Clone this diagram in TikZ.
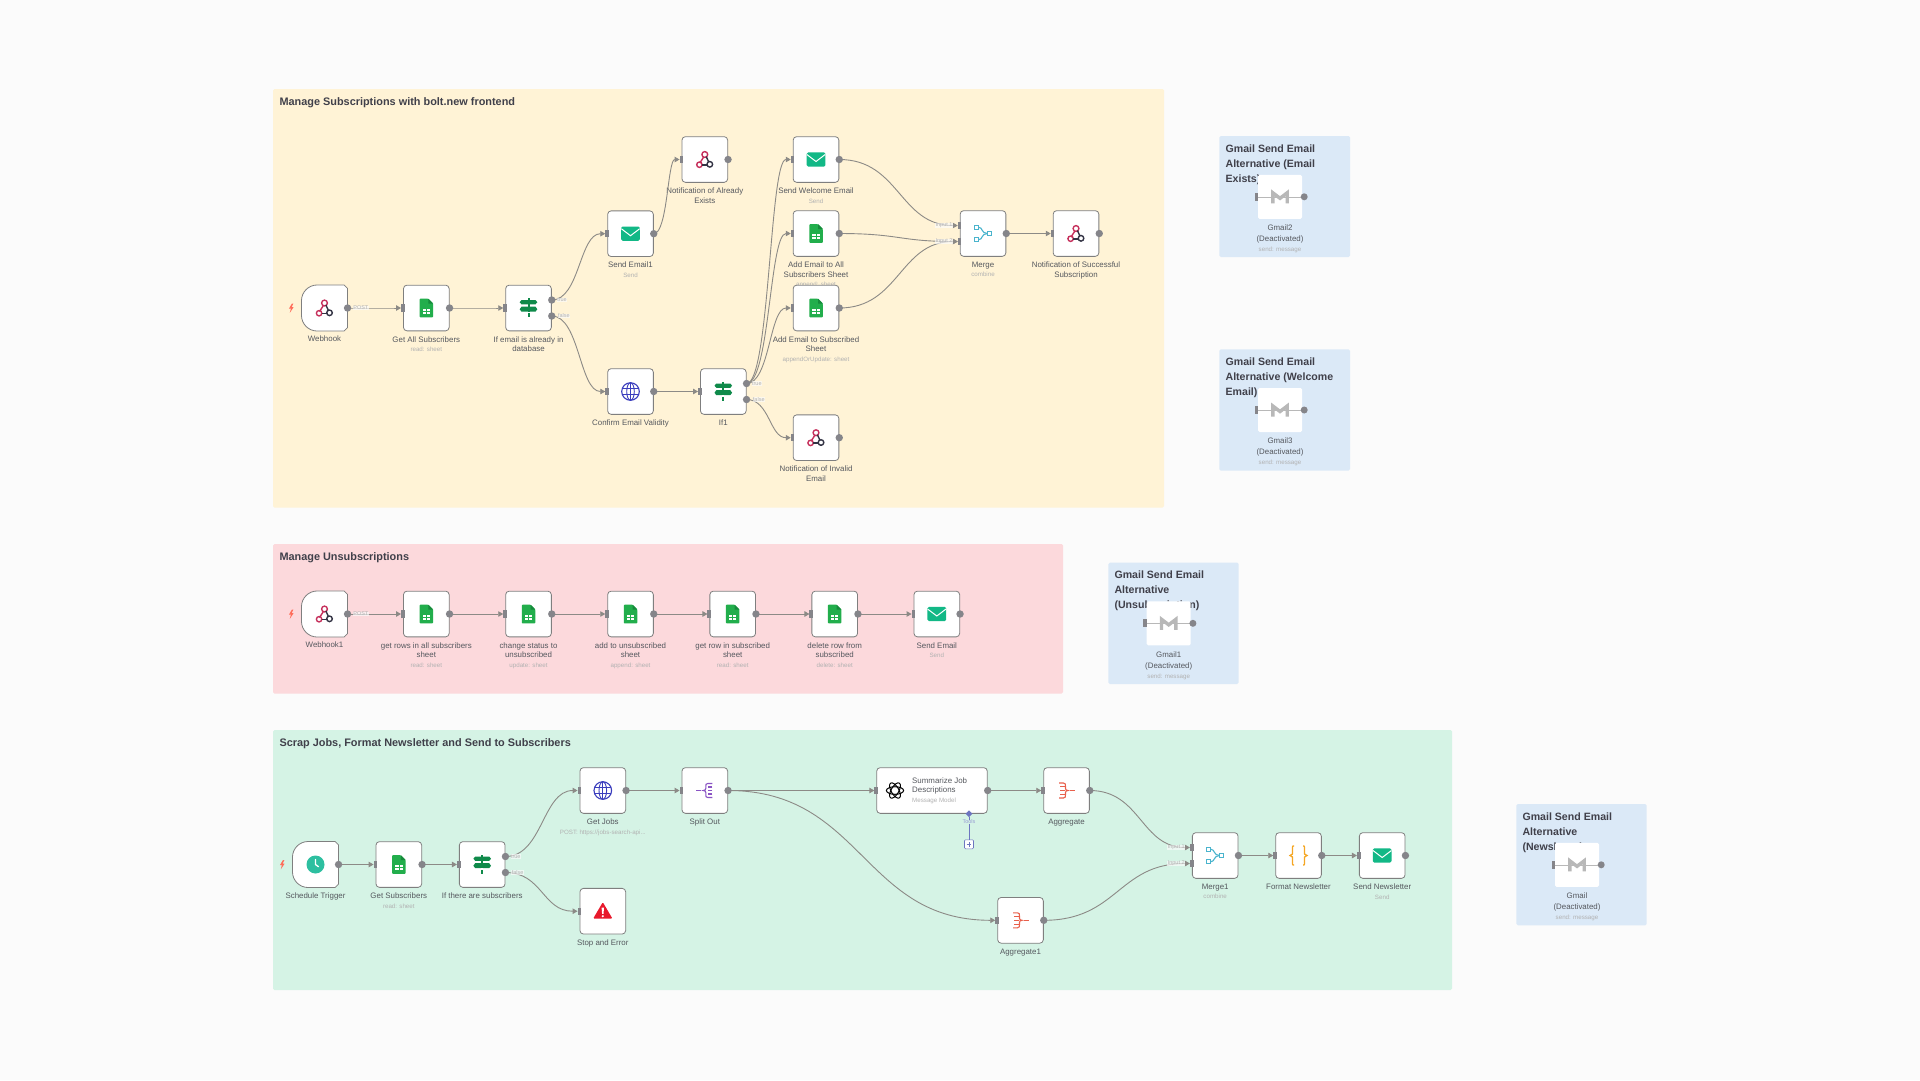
\documentclass[tikz,border=0pt]{standalone}
\usepackage{fontspec}
\setmainfont{Liberation Sans}
\usetikzlibrary{calc,arrows.meta,shapes.geometric}
\definecolor{bgc}{HTML}{FBFBFB}
\definecolor{yellowg}{HTML}{FFF3D6}
\definecolor{pinkg}{HTML}{FCD9DC}
\definecolor{greeng}{HTML}{D5F3E5}
\definecolor{blueg}{HTML}{DBE9F7}
\definecolor{edgec}{HTML}{8C8A86}
\definecolor{portc}{HTML}{85858A}
\definecolor{boxc}{HTML}{7F7F7F}
\definecolor{titlec}{HTML}{40404A}
\definecolor{lblc}{HTML}{55585E}
\definecolor{subc}{HTML}{B2B2B2}
\definecolor{sheetg}{HTML}{22AE4C}
\definecolor{sheetd}{HTML}{178A3C}
\definecolor{ifg}{HTML}{0F8A4A}
\definecolor{mailg}{HTML}{12B886}
\definecolor{globeb}{HTML}{3A3DBD}
\definecolor{mergec}{HTML}{4AB4CD}
\definecolor{crim}{HTML}{C6305C}
\definecolor{darkc}{HTML}{333344}
\definecolor{clockc}{HTML}{2DBFA0}
\definecolor{splitc}{HTML}{8A54C4}
\definecolor{aggc}{HTML}{E8604C}
\definecolor{stopc}{HTML}{E8192C}
\definecolor{codec}{HTML}{F5A623}
\definecolor{boltc}{HTML}{FF6D5A}
\definecolor{gmc}{HTML}{B8B8B8}
\definecolor{toolc}{HTML}{6D75C0}
\newcommand{\lblfont}{\fontsize{7.9}{9.5}\selectfont}
\newcommand{\subl}[1]{{\fontsize{6.2}{9.5}\selectfont\color{subc}#1}}
\tikzset{
  nbox/.style={draw=boxc,line width=.8pt,fill=white,rounded corners=3.5pt,minimum width=45.7pt,minimum height=45.7pt,inner sep=0pt},
  tbox/.style={draw=none,fill=none,minimum width=45.7pt,minimum height=45.7pt,inner sep=0pt},
  gbox/.style={fill=white,rounded corners=1.5pt,minimum width=44pt,minimum height=44pt,inner sep=0pt},
  lbl/.style={anchor=north,inner sep=0pt,yshift=-5pt,align=center,font=\lblfont,text=lblc},
  grouptitle/.style={anchor=base west,inner sep=0pt,font=\fontsize{10.9}{12}\selectfont\bfseries,text=titlec},
  stitle/.style={anchor=north west,inner sep=0pt,align=left,font=\fontsize{10.6}{15}\selectfont\bfseries,text=titlec},
  conn/.style={draw=edgec,line width=.9pt,-{Triangle[width=5.5pt,length=5pt]},shorten >=2pt},
  port/.style={fill=portc},
  hl/.style={font=\fontsize{5.5}{6}\selectfont,text=subc,fill=bgc,fill opacity=.65,text opacity=1,inner sep=.4pt},
  ic webhook/.pic={
    \draw[crim,line width=1.4pt] (0,-5) circle[radius=2.9];
    \draw[crim,line width=1.4pt] (-1.2,-2.4) -- (-5,3.6);
    \draw[crim,line width=1.4pt] (-5.4,5.2) circle[radius=2.7];
    \draw[darkc,line width=1.4pt] (-2.8,5.4) -- (3,5.4);
    \draw[darkc,line width=1.4pt] (5,4.8) circle[radius=2.8];
    \draw[darkc,line width=1.4pt] (1.4,-3) -- (3.8,2.2);
  },
  ic sheet/.pic={
    \fill[sheetg,rounded corners=.8pt] (-6.75,-9.3) -- (2,-9.3) -- (6.75,-4.5) -- (6.75,9.3) -- (-6.75,9.3) -- cycle;
    \fill[sheetd] (2,-9.3) -- (6.75,-4.5) -- (2,-4.5) -- cycle;
    \fill[white] (-3.7,.5) rectangle (3.7,5.8);
    \draw[sheetg,line width=.6pt] (0,.5) -- (0,5.8) (-3.7,3.1) -- (3.7,3.1);
  },
  ic if/.pic={
    \fill[ifg] (-1,-9.7) rectangle (1,9.3);
    \fill[ifg] (-8.8,-5.8) -- (-7,-8) -- (7,-8) -- (8.8,-5.8) -- (7,-3.7) -- (-7,-3.7) -- cycle;
    \fill[ifg] (-8.8,1.2) -- (-7,-1.3) -- (7,-1.3) -- (8.8,1.2) -- (7,3.7) -- (-7,3.7) -- cycle;
    \fill[white] (-1,3.7) rectangle (1,5.2);
  },
  ic mail/.pic={
    \fill[mailg,rounded corners=1.5pt] (-9.35,-7.15) rectangle (9.35,7.15);
    \draw[white,line width=1pt] (-9.2,-5) -- (0,2) -- (9.2,-5);
  },
  ic globe/.pic={
    \draw[globeb,line width=1.1pt] (0,0) circle[radius=8.8];
    \draw[globeb,line width=.9pt] (0,0) ellipse[x radius=3.8,y radius=8.8];
    \draw[globeb,line width=.9pt] (-8.2,-3.2) -- (8.2,-3.2) (-8.2,3.2) -- (8.2,3.2) (0,-8.8) -- (0,8.8);
  },
  ic merge/.pic={
    \draw[mergec,line width=1.1pt] (-8.5,-8.3) rectangle (-4.5,-4.3);
    \draw[mergec,line width=1.1pt] (-8.5,4.3) rectangle (-4.5,8.3);
    \draw[mergec,line width=1.1pt] (4.5,-2) rectangle (8.5,2);
    \draw[mergec,line width=1.1pt] (-4.5,-6.3) .. controls (0,-6.3) and (-2,0) .. (4.5,0);
    \draw[mergec,line width=1.1pt] (-4.5,6.3) .. controls (0,6.3) and (-2,0) .. (4.5,0);
  },
  ic gmail/.pic={
    \draw[gmc,line width=3.4pt,line join=miter] (-7.2,6.5) -- (-7.2,-4) -- (0,1.5) -- (7.2,-4) -- (7.2,6.5);
  },
  ic clock/.pic={
    \fill[clockc] (0,0) circle[radius=9];
    \draw[white,line width=1.3pt,line cap=round] (0,-5) -- (0,0) -- (3,2.2);
  },
  ic aggregate/.pic={
    \draw[aggc,line width=1.1pt] (-7.5,-7.5) -- (-3,-7.5) .. controls (-1,-7.5) and (-1,-6) .. (-1,-4) -- (-1,-2) .. controls (-1,-.7) and (0,0) .. (1.5,0) .. controls (0,0) and (-1,.7) .. (-1,2) -- (-1,4) .. controls (-1,6) and (-1,7.5) .. (-3,7.5) -- (-7.5,7.5);
    \draw[aggc,line width=1.1pt] (-6.5,-3.8) -- (-2,-3.8) (-6.5,0) -- (-2,0) (-6.5,3.8) -- (-2,3.8) (3.5,0) -- (8.5,0);
  },
  ic split/.pic={
    \draw[splitc,line width=1.1pt] (7.5,-7) -- (3,-7) .. controls (1,-7) and (1,-6) .. (1,-4) -- (1,-2) .. controls (1,-.7) and (0,0) .. (-1.5,0) .. controls (0,0) and (1,.7) .. (1,2) -- (1,4) .. controls (1,6) and (1,7) .. (3,7) -- (7.5,7);
    \draw[splitc,line width=1.1pt] (7.5,-3.5) -- (3,-3.5) (7.5,0) -- (3,0) (7.5,3.5) -- (3,3.5) (-3.5,0) -- (-9,0);
  },
  ic stop/.pic={
    \fill[stopc,rounded corners=1.2pt] (0,-9) -- (9.7,7.5) -- (-9.7,7.5) -- cycle;
    \fill[white] (-1.2,-3.5) -- (1.2,-3.5) -- (.7,2.7) -- (-.7,2.7) -- cycle;
    \fill[white] (0,5) circle[radius=1.2];
  },
  ic code/.pic={
    \draw[codec,line width=1.3pt] (-4.5,-9.5) -- (-5.5,-9.5) -- (-6,-8.5) -- (-6,-1.5) -- (-8.5,0) -- (-6,1.5) -- (-6,8.5) -- (-5.5,9.5) -- (-4.5,9.5);
    \draw[codec,line width=1.3pt] (4.5,-9.5) -- (5.5,-9.5) -- (6,-8.5) -- (6,-1.5) -- (8.5,0) -- (6,1.5) -- (6,8.5) -- (5.5,9.5) -- (4.5,9.5);
  },
  ic openai/.pic={
    \draw[black,line width=1pt] (0,0) ellipse[x radius=8.6,y radius=3.8];
    \draw[black,line width=1pt,rotate=60] (0,0) ellipse[x radius=8.6,y radius=3.8];
    \draw[black,line width=1pt,rotate=120] (0,0) ellipse[x radius=8.6,y radius=3.8];
  },
}
% node with icon and label
\newcommand{\nd}[5]{\node[nbox] (#1) at (#2,#3) {}; \pic at (#1) {#4}; \node[lbl] (#1-l) at (#1.south) {#5};}
% trigger node with a large left rounding and bolt
\newcommand{\trig}[5]{\node[tbox] (#1) at (#2,#3) {};
  \path[fill=white,draw=boxc,line width=.8pt] (#1.north) -- ($(#1.north east)+(-3.5,0)$) -- ($(#1.north east)+(0,3.5)$) -- ($(#1.south east)+(0,-3.5)$) -- ($(#1.south east)+(-3.5,0)$) -- ($(#1.south west)+(16,0)$) .. controls ($(#1.south west)+(7,0)$) and ($(#1.south west)+(0,-7)$) .. ($(#1.south west)+(0,-16)$) -- ($(#1.north west)+(0,16)$) .. controls ($(#1.north west)+(0,7)$) and ($(#1.north west)+(7,0)$) .. ($(#1.north west)+(16,0)$) -- cycle;
  \pic at (#1) {#4};
  \fill[boltc] ($(#1.west)+(-9.5,-4.5)$) -- ($(#1.west)+(-12.5,.6)$) -- ($(#1.west)+(-10.6,.6)$) -- ($(#1.west)+(-11.6,4.8)$) -- ($(#1.west)+(-7.8,-1)$) -- ($(#1.west)+(-9.7,-1)$) -- ($(#1.west)+(-8,-4.5)$) -- cycle;
  \node[lbl] (#1-l) at (#1.south) {#5};}
% curved connector with horizontal tangents
\newcommand{\lnk}[2]{\coordinate (midpt) at ($(#1)!0.5!(#2)$); \draw[conn] (#1) .. controls (midpt |- #1) and (midpt |- #2) .. (#2);}
\newcommand{\outp}[1]{\fill[port] (#1) circle[radius=3.7];}
\newcommand{\inp}[1]{\fill[port] ($(#1)+(-2,-3.7)$) rectangle ($(#1)+(1.6,3.7)$);}
% sticky with a deactivated Gmail node
\newcommand{\sticky}[9]{%
  \path[fill=blueg,rounded corners=1.5pt] (#2,#3) rectangle (#4,#5);
  \node[stitle] (#1-t) at ($(#2,#3)+(6,8.3)$) {#6};
  \node[gbox] (#1) at (#7,#8) {};
  \coordinate (#1-a) at ($(#1.west)+(-1.5,0)$);
  \coordinate (#1-b) at ($(#1.east)+(2,0)$);
  \draw[gmc,line width=.6pt] (#1-a) -- (#1-b);
  \pic at (#1) {ic gmail};
  \fill[port] ($(#1-a)+(-1.8,-4)$) rectangle ($(#1-a)+(1.6,4)$);
  \fill[port] (#1-b) circle[radius=3.5];
  \node[lbl,yshift=-.8pt,font=\fontsize{7.9}{11}\selectfont] (#1-l) at (#1.south) {#9\\[-1.2pt]{\fontsize{6.2}{9.5}\selectfont\color{subc}send: message}};
}
\begin{document}
\begin{tikzpicture}[x=1pt,y=-1pt]
\useasboundingbox (0,0) rectangle (1920,1080);
\fill[bgc] (0,0) rectangle (1920,1080);
% groups
\fill[yellowg,rounded corners=1.5pt] (273,89) rectangle (1164,507.5);
\fill[pinkg,rounded corners=1.5pt] (273,544) rectangle (1063,693.5);
\fill[greeng,rounded corners=1.5pt] (273,730) rectangle (1452,990);
\node[grouptitle] (g1t) at (279.3,105) {Manage Subscriptions with bolt.new frontend};
\node[grouptitle] (g2t) at (279.3,560) {Manage Unsubscriptions};
\node[grouptitle] (g3t) at (279.3,746) {Scrap Jobs, Format Newsletter and Send to Subscribers};
% stickies
\sticky{gm2}{1219.4}{136}{1350}{257}{Gmail Send Email\\Alternative (Email\\Exists)}{1280}{196.8}{Gmail2\\(Deactivated)}
\sticky{gm3}{1219.4}{349.3}{1350}{470.7}{Gmail Send Email\\Alternative (Welcome\\Email)}{1280}{410}{Gmail3\\(Deactivated)}
\sticky{gm1}{1108.3}{562.7}{1238.7}{684}{Gmail Send Email\\Alternative\\(Unsubscription)}{1168.7}{623.3}{Gmail1\\(Deactivated)}
\sticky{gm0}{1516.3}{804}{1646.7}{925.3}{Gmail Send Email\\Alternative\\(Newsletter)}{1577}{864.8}{Gmail\\(Deactivated)}
% group 1 nodes
\trig{wh}{324.5}{308}{ic webhook}{Webhook}
\nd{gas}{426.3}{308}{ic sheet}{Get All Subscribers\\\subl{read: sheet}}
\nd{ifa}{528.5}{308}{ic if}{If email is already in\\database}
\nd{se1}{630.5}{233.7}{ic mail}{Send Email1\\\subl{Send}}
\nd{nae}{704.8}{159.5}{ic webhook}{Notification of Already\\Exists}
\nd{cev}{630.5}{391.5}{ic globe}{Confirm Email Validity}
\nd{if1}{723.3}{391.5}{ic if}{If1}
\nd{swe}{816}{159.5}{ic mail}{Send Welcome Email\\\subl{Send}}
\nd{aas}{816}{233.5}{ic sheet}{Add Email to All\\Subscribers Sheet\\\subl{append: sheet}}
\nd{ass}{816}{308}{ic sheet}{Add Email to Subscribed\\Sheet\\\subl{appendOrUpdate: sheet}}
\nd{nie}{816}{437.7}{ic webhook}{Notification of Invalid\\Email}
\nd{mrg}{983}{233.5}{ic merge}{Merge\\\subl{combine}}
\nd{nss}{1076}{233.5}{ic webhook}{Notification of Successful\\Subscription}
% group 2 nodes
\trig{wh1}{324.5}{614}{ic webhook}{Webhook1}
\nd{gra}{426.3}{614}{ic sheet}{get rows in all subscribers\\sheet\\\subl{read: sheet}}
\nd{chs}{528.5}{614}{ic sheet}{change status to\\unsubscribed\\\subl{update: sheet}}
\nd{atu}{630.5}{614}{ic sheet}{add to unsubscribed\\sheet\\\subl{append: sheet}}
\nd{grs}{732.7}{614}{ic sheet}{get row in subscribed\\sheet\\\subl{read: sheet}}
\nd{drs}{834.7}{614}{ic sheet}{delete row from\\subscribed\\\subl{delete: sheet}}
\nd{sem}{936.8}{614}{ic mail}{Send Email\\\subl{Send}}
% group 3 nodes
\trig{sch}{315.5}{864.5}{ic clock}{Schedule Trigger}
\nd{gsb}{398.8}{864.5}{ic sheet}{Get Subscribers\\\subl{read: sheet}}
\nd{ift}{482.2}{864.5}{ic if}{If there are subscribers}
\nd{gjb}{602.8}{790.5}{ic globe}{Get Jobs\\\subl{POST: https://jobs-search-api...}}
\nd{spl}{704.8}{790.5}{ic split}{Split Out}
\nd{stp}{602.8}{911.2}{ic stop}{Stop and Error}
\node[nbox,minimum width=110.6pt] (sum) at (932,790.5) {};
\pic at (895,790.5) {ic openai};
\node[anchor=north west,inner sep=0pt,align=left,font=\lblfont,text=lblc] (sum-l) at (912,777.5) {Summarize Job\\Descriptions\\\subl{Message Model}};
\nd{agg}{1066.5}{790.5}{ic aggregate}{Aggregate}
\nd{ag1}{1020.5}{920.3}{ic aggregate}{Aggregate1}
\nd{mg1}{1215.2}{855.5}{ic merge}{Merge1\\\subl{combine}}
\nd{fmt}{1298.5}{855.5}{ic code}{Format Newsletter}
\nd{snl}{1382.2}{855.5}{ic mail}{Send Newsletter\\\subl{Send}}
% tools sub-port
\node[diamond,fill=toolc,minimum size=7pt,inner sep=0pt] (tool) at (969,813.7) {};
\node[draw=toolc,fill=white,rounded corners=1pt,line width=.6pt,minimum size=9pt,inner sep=0pt] (plus) at (969,844.3) {};
\draw[toolc,line width=.7pt] (tool) -- (plus);
\draw[toolc,line width=.7pt] ($(plus)+(-2.4,0)$) -- ($(plus)+(2.4,0)$) ($(plus)+(0,-2.4)$) -- ($(plus)+(0,2.4)$);
\node[font=\fontsize{5.5}{6}\selectfont,text=toolc!70,fill=greeng,inner sep=.3pt] (toolt) at (969,822) {Tools};
% ports with offsets
\coordinate (ifa-t) at ($(ifa.east)+(0,-8)$);
\coordinate (ifa-f) at ($(ifa.east)+(0,8)$);
\coordinate (if1-t) at ($(if1.east)+(0,-8)$);
\coordinate (if1-f) at ($(if1.east)+(0,8)$);
\coordinate (ift-t) at ($(ift.east)+(0,-8)$);
\coordinate (ift-f) at ($(ift.east)+(0,8)$);
\coordinate (mrg-1) at ($(mrg.west)+(0,-8)$);
\coordinate (mrg-2) at ($(mrg.west)+(0,8)$);
\coordinate (mg1-1) at ($(mg1.west)+(0,-8)$);
\coordinate (mg1-2) at ($(mg1.west)+(0,8)$);
% connectors
\lnk{wh.east}{gas.west}
\lnk{gas.east}{ifa.west}
\lnk{ifa-t}{se1.west}
\lnk{ifa-f}{cev.west}
\lnk{se1.east}{nae.west}
\lnk{cev.east}{if1.west}
\lnk{if1-t}{swe.west}
\lnk{if1-t}{aas.west}
\lnk{if1-t}{ass.west}
\lnk{if1-f}{nie.west}
\lnk{swe.east}{mrg-1}
\lnk{aas.east}{mrg-2}
\lnk{ass.east}{mrg-2}
\lnk{mrg.east}{nss.west}
\lnk{wh1.east}{gra.west}
\lnk{gra.east}{chs.west}
\lnk{chs.east}{atu.west}
\lnk{atu.east}{grs.west}
\lnk{grs.east}{drs.west}
\lnk{drs.east}{sem.west}
\lnk{sch.east}{gsb.west}
\lnk{gsb.east}{ift.west}
\lnk{ift-t}{gjb.west}
\lnk{ift-f}{stp.west}
\lnk{gjb.east}{spl.west}
\lnk{spl.east}{sum.west}
\lnk{spl.east}{ag1.west}
\lnk{sum.east}{agg.west}
\lnk{agg.east}{mg1-1}
\lnk{ag1.east}{mg1-2}
\lnk{mg1.east}{fmt.west}
\lnk{fmt.east}{snl.west}
% handle labels
\node[hl] (h1) at ($(wh.east)+(13.3,0)$) {POST};
\node[hl] (h2) at ($(wh1.east)+(13.3,0)$) {POST};
\node[hl] (h3) at ($(ifa-t)+(10.3,0)$) {true};
\node[hl] (h4) at ($(ifa-f)+(12.2,0)$) {false};
\node[hl] (h5) at ($(if1-t)+(10.3,0)$) {true};
\node[hl] (h6) at ($(if1-f)+(12.2,0)$) {false};
\node[hl] (h7) at ($(ift-t)+(10.3,0)$) {true};
\node[hl] (h8) at ($(ift-f)+(12.2,0)$) {false};
\node[hl] (h9) at ($(mrg-1)+(-15.7,0)$) {Input 1};
\node[hl] (h10) at ($(mrg-2)+(-15.7,0)$) {Input 2};
\node[hl] (h11) at ($(mg1-1)+(-15.7,0)$) {Input 1};
\node[hl] (h12) at ($(mg1-2)+(-15.7,0)$) {Input 2};
% handles
\foreach \n in {wh,gas,se1,nae,cev,swe,aas,ass,nie,mrg,nss,wh1,gra,chs,atu,grs,drs,sem,sch,gsb,gjb,spl,sum,agg,ag1,mg1,fmt,snl}{\outp{\n.east}}
\foreach \n in {ifa-t,ifa-f,if1-t,if1-f,ift-t,ift-f}{\outp{\n}}
\foreach \n in {gas,ifa,se1,nae,cev,if1,swe,aas,ass,nie,nss,gra,chs,atu,grs,drs,sem,gsb,ift,gjb,spl,stp,sum,agg,ag1,fmt,snl}{\inp{\n.west}}
\foreach \n in {mrg-1,mrg-2,mg1-1,mg1-2}{\inp{\n}}
\end{tikzpicture}
\end{document}
